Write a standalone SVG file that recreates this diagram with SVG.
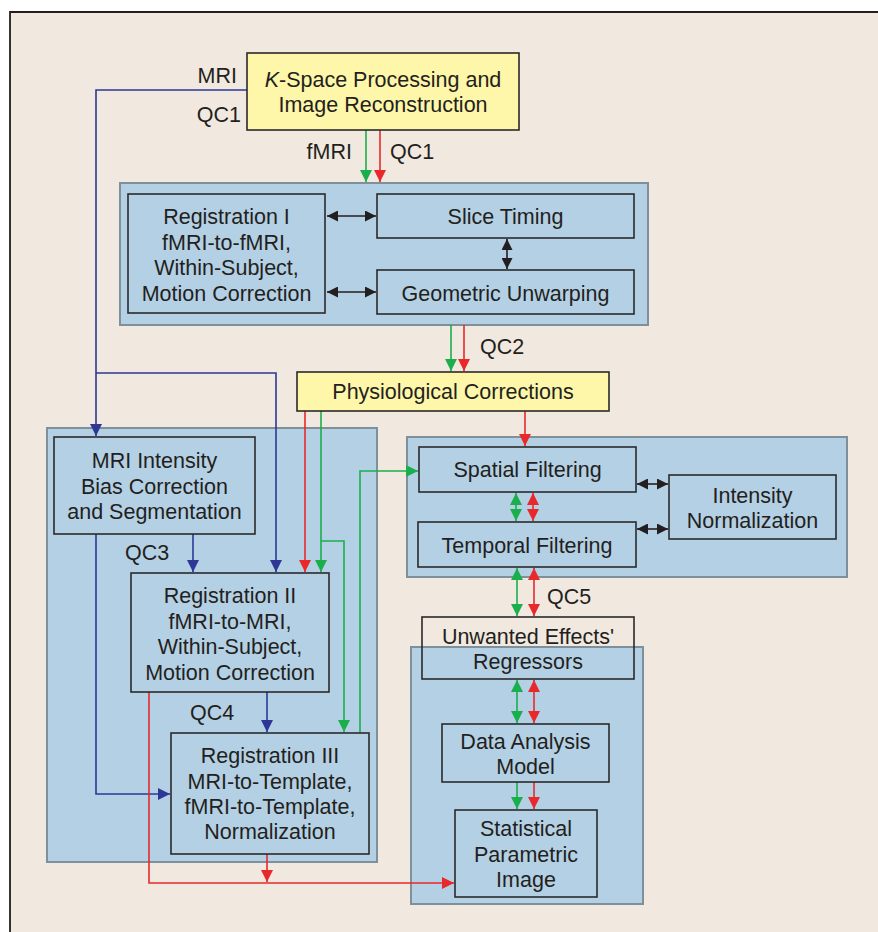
<svg xmlns="http://www.w3.org/2000/svg" width="878" height="932" viewBox="0 0 878 932">
<style>
text{font-family:"Liberation Sans",Arial,sans-serif;font-size:21.5px;fill:#231F20;}
.c{text-anchor:middle;}
.e{text-anchor:end;}
.cont{fill:#B4D0E4;stroke:#80909A;stroke-width:2;}
.box{fill:#B4D0E4;stroke:#2A2A2A;stroke-width:1.6;}
.ybox{fill:#FEF6A8;stroke:#2A2A2A;stroke-width:1.6;}
.ln{fill:none;stroke-width:1.6;}
.bl{stroke:#2E3796;}
.gr{stroke:#1BAE4C;}
.rd{stroke:#E8282B;}
.bk{stroke:#231F20;}
</style>
<defs>
<marker id="ab" viewBox="0 0 10 10" refX="10" refY="5" markerWidth="12" markerHeight="12" markerUnits="userSpaceOnUse" orient="auto-start-reverse"><path d="M0,0L10,5L0,10z" fill="#2E3796"/></marker>
<marker id="ag" viewBox="0 0 10 10" refX="10" refY="5" markerWidth="12" markerHeight="13" markerUnits="userSpaceOnUse" orient="auto-start-reverse"><path d="M0,0L10,5L0,10z" fill="#1BAE4C"/></marker>
<marker id="ar" viewBox="0 0 10 10" refX="10" refY="5" markerWidth="12" markerHeight="13" markerUnits="userSpaceOnUse" orient="auto-start-reverse"><path d="M0,0L10,5L0,10z" fill="#E8282B"/></marker>
<marker id="ak" viewBox="0 0 10 10" refX="10" refY="5" markerWidth="11" markerHeight="11" markerUnits="userSpaceOnUse" orient="auto-start-reverse"><path d="M0,0L10,5L0,10z" fill="#231F20"/></marker>
</defs>
<rect x="0" y="0" width="878" height="932" fill="#FFFFFF"/>
<rect x="10" y="12" width="868" height="920" fill="#F1E9DF"/>
<path d="M10,932V12H878" fill="none" stroke="#231F20" stroke-width="1.8"/>

<g id="containers">
<rect class="cont" x="120" y="183" width="528" height="142"/>
<rect class="cont" x="47" y="428" width="330" height="434"/>
<rect class="cont" x="407" y="437" width="440" height="140"/>
<rect class="cont" x="411" y="647" width="232" height="257"/>
</g>

<g id="connectors">
<path class="ln bl" d="M247,90H96V436" marker-end="url(#ab)"/>
<path class="ln bl" d="M96,373H276V572" marker-end="url(#ab)"/>
<path class="ln gr" d="M366,130V182" marker-end="url(#ag)"/>
<path class="ln rd" d="M380,130V182" marker-end="url(#ar)"/>
<path class="ln bk" d="M327,216H376" marker-start="url(#ak)" marker-end="url(#ak)"/>
<path class="ln bk" d="M327,292H376" marker-start="url(#ak)" marker-end="url(#ak)"/>
<path class="ln bk" d="M507,239V269" marker-start="url(#ak)" marker-end="url(#ak)"/>
<path class="ln gr" d="M451,325V371" marker-end="url(#ag)"/>
<path class="ln rd" d="M464,325V371" marker-end="url(#ar)"/>
<path class="ln bl" d="M193,534V572" marker-end="url(#ab)"/>
<path class="ln bl" d="M96,534V794H170" marker-end="url(#ab)"/>
<path class="ln rd" d="M305,411V572" marker-end="url(#ar)"/>
<path class="ln gr" d="M321,411V572" marker-end="url(#ag)"/>
<path class="ln gr" d="M321,541H344V732" marker-end="url(#ag)"/>
<path class="ln gr" d="M360,733V471H418" marker-end="url(#ag)"/>
<path class="ln bl" d="M267,692V732" marker-end="url(#ab)"/>
<path class="ln rd" d="M149,692V883H454" marker-end="url(#ar)"/>
<path class="ln rd" d="M267,854V882" marker-end="url(#ar)"/>
<path class="ln rd" d="M525,411V446" marker-end="url(#ar)"/>
<path class="ln bk" d="M637,484H668" marker-start="url(#ak)" marker-end="url(#ak)"/>
<path class="ln bk" d="M637,529H668" marker-start="url(#ak)" marker-end="url(#ak)"/>
<path class="ln gr" d="M516,493V521" marker-start="url(#ag)" marker-end="url(#ag)"/>
<path class="ln rd" d="M533,493V521" marker-start="url(#ar)" marker-end="url(#ar)"/>
<path class="ln gr" d="M517,568V616" marker-start="url(#ag)" marker-end="url(#ag)"/>
<path class="ln rd" d="M534,568V616" marker-start="url(#ar)" marker-end="url(#ar)"/>
<path class="ln gr" d="M517,680V723" marker-start="url(#ag)" marker-end="url(#ag)"/>
<path class="ln rd" d="M534,680V723" marker-start="url(#ar)" marker-end="url(#ar)"/>
<path class="ln gr" d="M517,782V809" marker-end="url(#ag)"/>
<path class="ln rd" d="M534,782V809" marker-end="url(#ar)"/>
</g>

<g id="labels">
<text class="e" x="237" y="83">MRI</text>
<text class="e" x="241" y="122">QC1</text>
<text class="e" x="352" y="159">fMRI</text>
<text x="390" y="159">QC1</text>
<text x="480" y="354">QC2</text>
<text x="125" y="560">QC3</text>
<text x="190" y="720">QC4</text>
<text x="547" y="604">QC5</text>
</g>

<g id="kspace">
<rect class="ybox" x="247" y="53" width="272" height="77"/>
<text class="c" x="383" y="87"><tspan font-style="italic">K</tspan>-Space Processing and</text>
<text class="c" x="383" y="112">Image Reconstruction</text>
</g>
<g id="registration1">
<rect class="box" x="128" y="194" width="197" height="119"/>
<text class="c" x="226.5" y="224">Registration I</text>
<text class="c" x="226.5" y="250">fMRI-to-fMRI,</text>
<text class="c" x="226.5" y="275">Within-Subject,</text>
<text class="c" x="226.5" y="301">Motion Correction</text>
</g>
<g id="slicetiming">
<rect class="box" x="377" y="194" width="257" height="44"/>
<text class="c" x="505.5" y="224">Slice Timing</text>
</g>
<g id="unwarping">
<rect class="box" x="377" y="270" width="257" height="44"/>
<text class="c" x="505.5" y="301">Geometric Unwarping</text>
</g>
<g id="physio">
<rect class="ybox" x="297" y="372" width="312" height="39"/>
<text class="c" x="453" y="399">Physiological Corrections</text>
</g>
<g id="mribias">
<rect class="box" x="54" y="437" width="201" height="97"/>
<text class="c" x="154.5" y="468">MRI Intensity</text>
<text class="c" x="154.5" y="494">Bias Correction</text>
<text class="c" x="154.5" y="519">and Segmentation</text>
</g>
<g id="registration2">
<rect class="box" x="131" y="573" width="198" height="119"/>
<text class="c" x="230" y="603">Registration II</text>
<text class="c" x="230" y="629">fMRI-to-MRI,</text>
<text class="c" x="230" y="654">Within-Subject,</text>
<text class="c" x="230" y="680">Motion Correction</text>
</g>
<g id="registration3">
<rect class="box" x="171" y="733" width="198" height="121"/>
<text class="c" x="270" y="763">Registration III</text>
<text class="c" x="270" y="789">MRI-to-Template,</text>
<text class="c" x="270" y="814">fMRI-to-Template,</text>
<text class="c" x="270" y="839">Normalization</text>
</g>
<g id="spatial">
<rect class="box" x="419" y="447" width="217" height="45"/>
<text class="c" x="527.5" y="477">Spatial Filtering</text>
</g>
<g id="temporal">
<rect class="box" x="418" y="522" width="218" height="45"/>
<text class="c" x="527" y="553">Temporal Filtering</text>
</g>
<g id="intensitynorm">
<rect class="box" x="669" y="475" width="167" height="64"/>
<text class="c" x="752.5" y="503">Intensity</text>
<text class="c" x="752.5" y="528">Normalization</text>
</g>
<g id="unwanted">
<rect x="422" y="617" width="212" height="62" fill="none" stroke="#2A2A2A" stroke-width="1.6"/>
<text class="c" x="528" y="644">Unwanted Effects'</text>
<text class="c" x="528" y="669">Regressors</text>
</g>
<g id="dataanalysis">
<rect class="box" x="442" y="724" width="167" height="58"/>
<text class="c" x="525.5" y="749">Data Analysis</text>
<text class="c" x="525.5" y="774">Model</text>
</g>
<g id="spi">
<rect class="box" x="455" y="810" width="142" height="87"/>
<text class="c" x="526" y="836">Statistical</text>
<text class="c" x="526" y="862">Parametric</text>
<text class="c" x="526" y="887">Image</text>
</g>
</svg>
